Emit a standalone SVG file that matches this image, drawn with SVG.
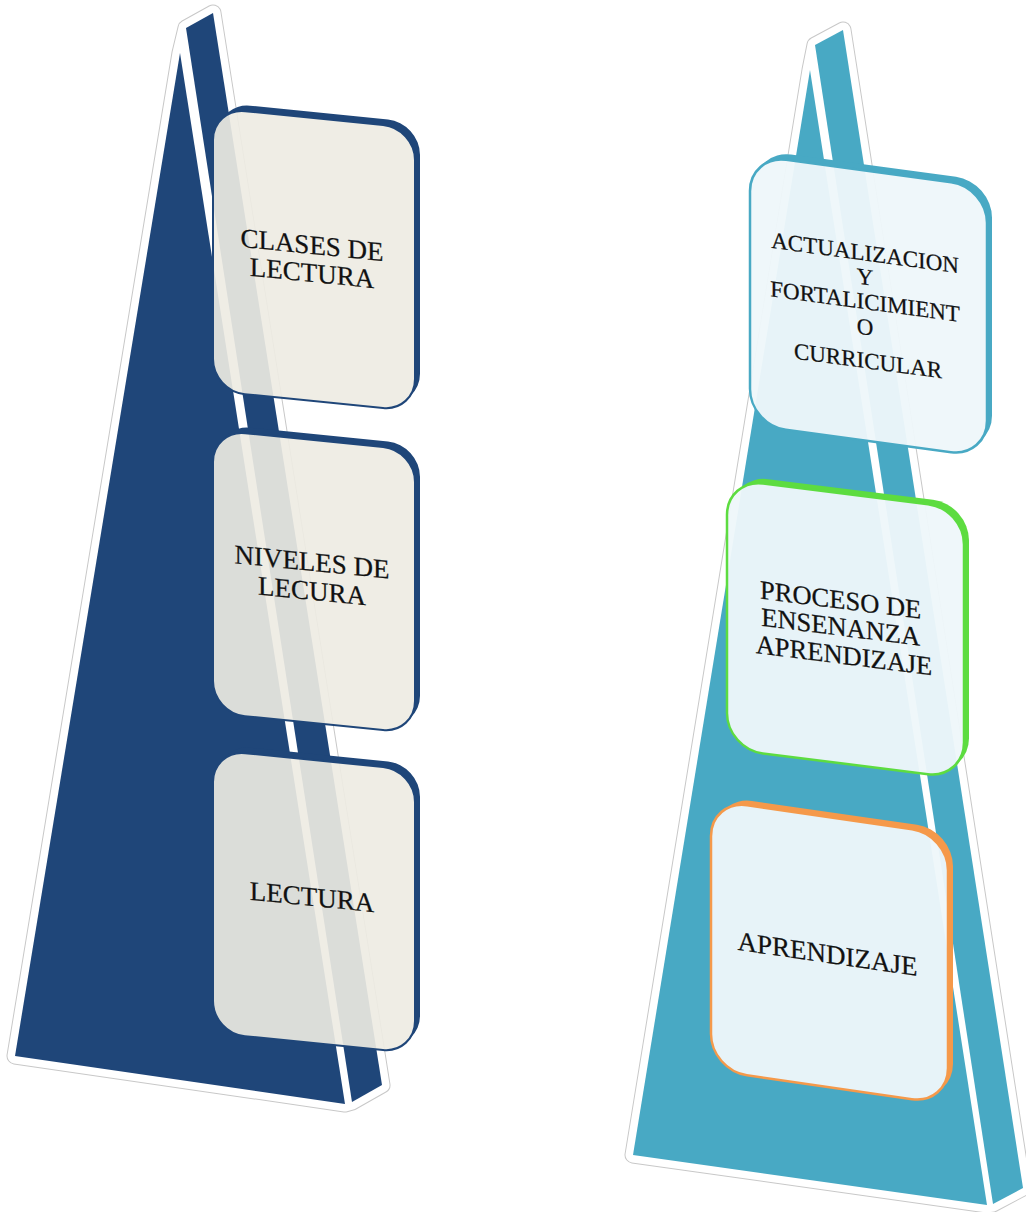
<svg xmlns="http://www.w3.org/2000/svg" width="1026" height="1212" viewBox="0 0 1026 1212">
  <style>
    .halo { fill: #ffffff; stroke: #c8c8c8; stroke-width: 17; stroke-linejoin: round; }
    .halo2 { fill: #ffffff; stroke: #ffffff; stroke-width: 15; stroke-linejoin: round; }
    .navy { fill: #1f4679; }
    .teal { fill: #48a9c4; }
    .lbox { fill: #edebe2; fill-opacity: 0.915; stroke: #1f4679; stroke-width: 2; }
    .rbox { fill: #eef7fa; fill-opacity: 0.955; stroke-width: 2.5; }
    .t { font-family: "Liberation Serif", "Times New Roman", serif; fill: #111111; stroke: #111111; stroke-width: 0.25; text-anchor: middle; }
  </style>
  <defs>
    <mask id="mL" maskUnits="userSpaceOnUse" x="-50" y="-50" width="320" height="400">
      <rect x="-50" y="-50" width="320" height="400" fill="#fff"/>
      <rect x="0" y="0" width="202" height="283" rx="32" fill="#000"/>
    </mask>
    <mask id="mR" maskUnits="userSpaceOnUse" x="-50" y="-50" width="350" height="400">
      <rect x="-50" y="-50" width="350" height="400" fill="#fff"/>
      <rect x="0" y="0" width="237" height="270" rx="36" fill="#000"/>
    </mask>
  </defs>
  <rect width="1026" height="1212" fill="#ffffff"/>

  <g id="left-pyramid">
    <polygon class="halo" points="15,1056 180,53 186,28 213,13 382,1085 352,1102 345,1104"/>
    <polygon class="halo2" points="15,1056 180,53 186,28 213,13 382,1085 352,1102 345,1104"/>
    <polygon class="navy" points="180,53 345,1104 15,1056"/>
    <polygon class="navy" points="186,28 213,13 382,1085 352,1102"/>
  </g>

  <g id="right-pyramid">
    <polygon class="halo" points="633,1155 810,70 815,45 843,30 1023,1188 993,1204 987,1205"/>
    <polygon class="halo2" points="633,1155 810,70 815,45 843,30 1023,1188 993,1204 987,1205"/>
    <polygon class="teal" points="810,70 987,1205 633,1155"/>
    <polygon class="teal" points="815,45 843,30 1023,1188 993,1204"/>
  </g>

  <g id="connectors"></g>

  <g id="node-clases" transform="matrix(1,0.1,0,1,213,108)">
    <rect x="5" y="-6" width="202" height="283" rx="32" fill="#1f4679" mask="url(#mL)"/>
    <rect class="lbox" x="0" y="0" width="202" height="283" rx="32"/>
    <text class="t" font-size="27"><tspan x="99" y="136">CLASES DE</tspan><tspan x="99" y="164">LECTURA</tspan></text>
  </g>

  <g id="node-niveles" transform="matrix(1,0.1,0,1,213,430)">
    <rect x="5" y="-6" width="202" height="283" rx="32" fill="#1f4679" mask="url(#mL)"/>
    <rect class="lbox" x="0" y="0" width="202" height="283" rx="32"/>
    <text class="t" font-size="27"><tspan x="99" y="131">NIVELES DE</tspan><tspan x="99" y="160">LECURA</tspan></text>
  </g>

  <g id="node-lectura" transform="matrix(1,0.1,0,1,213,750)">
    <rect x="5" y="-6" width="202" height="283" rx="32" fill="#1f4679" mask="url(#mL)"/>
    <rect class="lbox" x="0" y="0" width="202" height="283" rx="32"/>
    <text class="t" font-size="27" x="99" y="146">LECTURA</text>
  </g>

  <g id="node-actualizacion" transform="matrix(1,0.135,0,1,750,155)">
    <rect x="5" y="-6" width="237" height="270" rx="36" fill="#48a9c4" mask="url(#mR)"/>
    <rect class="rbox" x="0" y="0" width="237" height="270" rx="36" stroke="#48a9c4"/>
    <text class="t" font-size="23">
      <tspan x="118" y="90">ACTUALIZACION</tspan>
      <tspan x="118" y="114">Y</tspan>
      <tspan x="118" y="138.5">FORTALICIMIENT</tspan>
      <tspan x="118" y="164">O</tspan>
      <tspan x="118" y="197.5">CURRICULAR</tspan>
    </text>
  </g>

  <g id="node-proceso" transform="matrix(1,0.125,0,1,727,479)">
    <rect x="5" y="-5" width="237" height="270" rx="36" fill="#5ddc40" mask="url(#mR)"/>
    <rect class="rbox" x="0" y="0" width="237" height="270" rx="36" stroke="#5ddc40"/>
    <text class="t" font-size="26.5">
      <tspan x="117" y="115.5">PROCESO DE</tspan>
      <tspan x="117" y="142.5">ENSENANZA</tspan>
      <tspan x="117" y="170.5">APRENDIZAJE</tspan>
    </text>
  </g>

  <g id="node-aprendizaje" transform="matrix(1,0.145,0,1,711,800)">
    <rect x="5" y="-5" width="237" height="270" rx="36" fill="#f5994a" mask="url(#mR)"/>
    <rect class="rbox" x="0" y="0" width="237" height="270" rx="36" stroke="#f5994a"/>
    <text class="t" font-size="27" x="116.5" y="146">APRENDIZAJE</text>
  </g>
</svg>
